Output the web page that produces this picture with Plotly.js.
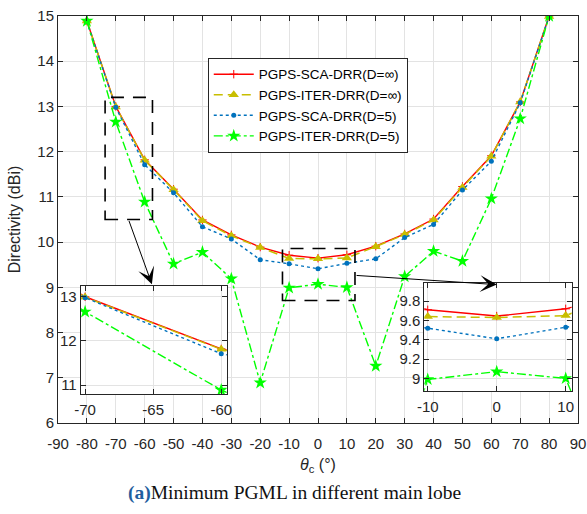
<!DOCTYPE html>
<html>
<head>
<meta charset="utf-8">
<script src="https://cdn.plot.ly/plotly-3.0.1.min.js"></script>
<style>html,body{margin:0;padding:0;background:#fff;}#chart{width:587px;height:514px;}</style>
</head>
<body>
<div id="chart"></div>
<script>
// ---- data ----
const theta = [-80,-70,-60,-50,-40,-30,-20,-10,0,10,20,30,40,50,60,70,80];
const scaInf  = [14.89,13.00,11.82,11.17,10.49,10.16,9.89,9.71,9.645,9.72,9.91,10.18,10.51,11.23,11.91,13.10,15.00];
const iterInf = [14.89,12.99,11.81,11.16,10.47,10.14,9.88,9.64,9.63,9.65,9.90,10.17,10.49,11.21,11.90,13.10,14.99];
const sca5    = [14.88,12.98,11.71,11.09,10.34,10.07,9.61,9.52,9.41,9.53,9.63,10.10,10.39,11.15,11.79,13.08,14.99];
const iter5   = [14.89,12.66,10.89,9.52,9.78,9.19,6.89,8.99,9.07,9.00,7.26,9.24,9.80,9.58,10.96,12.73,15.00];
const seriesNames = ['PGPS-SCA-DRR(D=\u221e)','PGPS-ITER-DRR(D=\u221e)','PGPS-SCA-DRR(D=5)','PGPS-ITER-DRR(D=5)'];
const xTicks = [-90,-80,-70,-60,-50,-40,-30,-20,-10,0,10,20,30,40,50,60,70,80,90];
const yTicks = [6,7,8,9,10,11,12,13,14,15];
const inset1XTicks = [-70,-65,-60];
const inset1YTicks = [11,12,13];
const inset2XTicks = [-10,0,10];
const inset2YTicks = [9,9.2,9.4,9.6,9.8];
const inset2YLabels = ['9','9.2','9.4','9.6','9.8'];

// ---- styles ----
const styles = [
  {line:{color:'#FF0000',width:1.4,dash:'solid'}, marker:{symbol:'cross-thin',size:6,line:{color:'#FF0000',width:1}}},
  {line:{color:'#C8BE00',width:1.5,dash:'9px,5px'}, marker:{symbol:'triangle-up',size:9,color:'#C8BE00'}},
  {line:{color:'#0072BD',width:1.4,dash:'dot'}, marker:{symbol:'circle',size:5,color:'#0072BD'}},
  {line:{color:'#00FF00',width:1.4,dash:'dashdot'}, marker:{symbol:'star',size:10,color:'#00FF00'}}
];
const ys = [scaInf, iterInf, sca5, iter5];

const traces = [];
const axesSets = [['x','y',true],['x2','y2',false],['x3','y3',false]];
axesSets.forEach(([xa,ya,leg])=>{
  ys.forEach((yv,i)=>{
    traces.push({type:'scatter',mode:'lines+markers',x:theta,y:yv,name:seriesNames[i],
      xaxis:xa,yaxis:ya,showlegend:leg,line:styles[i].line,marker:styles[i].marker});
  });
});

const axColor = '#262626';
const gridColor = '#E3E3E3';
const tickFont = {family:'Liberation Sans, Arial, sans-serif',size:15,color:axColor};
function axisBase(extra){
  return Object.assign({showline:true,linecolor:axColor,linewidth:1,mirror:'ticks',ticks:'inside',ticklen:5,
    tickcolor:axColor,showgrid:true,gridcolor:gridColor,gridwidth:1,zeroline:false,tickfont:tickFont,
    tickmode:'array'},extra);
}

const in1Dom = {x:[0.0437,0.3244], y:[0.0713,0.3373]};
const in2Dom = {x:[0.7044,0.9879], y:[0.0786,0.3447]};
const xr = [-90,90], yr = [6,15];
function px2x(d){return xr[0]+d*(xr[1]-xr[0]);}
function py2y(d){return yr[0]+d*(yr[1]-yr[0]);}

const boxLine = {color:'#000',width:1.6,dash:'13px,9px'};
const shapes = [
  {type:'rect',xref:'x',yref:'y',layer:'between',x0:px2x(in1Dom.x[0]),x1:px2x(in1Dom.x[1]),y0:py2y(in1Dom.y[0]),y1:py2y(in1Dom.y[1]),fillcolor:'#ffffff',line:{width:0}},
  {type:'rect',xref:'x',yref:'y',layer:'between',x0:px2x(in2Dom.x[0]),x1:px2x(in2Dom.x[1]),y0:py2y(in2Dom.y[0]),y1:py2y(in2Dom.y[1]),fillcolor:'#ffffff',line:{width:0}},
  {type:'rect',xref:'x',yref:'y',x0:-73.7,x1:-57.3,y0:10.5,y1:13.2,line:boxLine},
  {type:'rect',xref:'x',yref:'y',x0:-12.3,x1:12.8,y0:8.71,y1:9.86,line:boxLine}
];

const annotations = [
  {xref:'x',yref:'y',axref:'x',ayref:'y',x:-57.5,y:9.07,ax:-65.6,ay:10.5,text:'',showarrow:true,arrowhead:3,arrowsize:2.8,arrowwidth:1,arrowcolor:'#000',standoff:0,startstandoff:0},
  {xref:'x',yref:'y',axref:'x',ayref:'y',x:61.9,y:9.06,ax:12.84,ay:9.265,text:'',showarrow:true,arrowhead:3,arrowsize:2.8,arrowwidth:1,arrowcolor:'#000',standoff:0,startstandoff:0},
  {xref:'paper',yref:'paper',x:0.455,y:-0.172,xanchor:'center',yanchor:'middle',showarrow:false,
   text:'<b><span style="color:#1F5E9E">(a)</span></b>Minimum PGML in different main lobe',
   font:{family:'Liberation Serif, Times New Roman, serif',size:19.5,color:'#111'}}
];

const layout = {
  width:587,height:514,
  margin:{l:58,r:9,t:16,b:91},
  paper_bgcolor:'#ffffff',plot_bgcolor:'#ffffff',
  font:{family:'Liberation Sans, Arial, sans-serif',size:15,color:axColor},
  xaxis:axisBase({range:xr,tickvals:xTicks,ticktext:xTicks.map(String),domain:[0,1],ticklabelstandoff:7,
    title:{text:'<i>\u03b8</i><sub>c</sub> (\u00b0)',font:{size:16,color:axColor},standoff:7}}),
  yaxis:axisBase({range:yr,tickvals:yTicks,ticktext:yTicks.map(String),domain:[0,1],
    title:{text:'Directivity (dBi)',font:{size:16,color:axColor},standoff:12}}),
  xaxis2:axisBase({anchor:'y2',domain:in1Dom.x,range:[-70.32,-59.6],tickvals:inset1XTicks,ticktext:inset1XTicks.map(String),ticklabelstandoff:2}),
  yaxis2:axisBase({anchor:'x2',domain:in1Dom.y,range:[10.8,13.25],tickvals:inset1YTicks,ticktext:inset1YTicks.map(String)}),
  xaxis3:axisBase({anchor:'y3',domain:in2Dom.x,range:[-10.5,10.87],tickvals:inset2XTicks,ticktext:inset2XTicks.map(String),ticklabelstandoff:2}),
  yaxis3:axisBase({anchor:'x3',domain:in2Dom.y,range:[8.87,9.99],tickvals:inset2YTicks,ticktext:inset2YLabels}),
  legend:{x:0.288,y:0.897,xanchor:'left',yanchor:'top',bgcolor:'#ffffff',bordercolor:axColor,borderwidth:1,
    font:{family:'Liberation Sans, Arial, sans-serif',size:13.5,color:'#000'},tracegroupgap:0,itemwidth:40},
  shapes:shapes,
  annotations:annotations,
  showlegend:true
};

Plotly.newPlot('chart',traces,layout,{displayModeBar:false,staticPlot:true});
</script>
</body>
</html>
